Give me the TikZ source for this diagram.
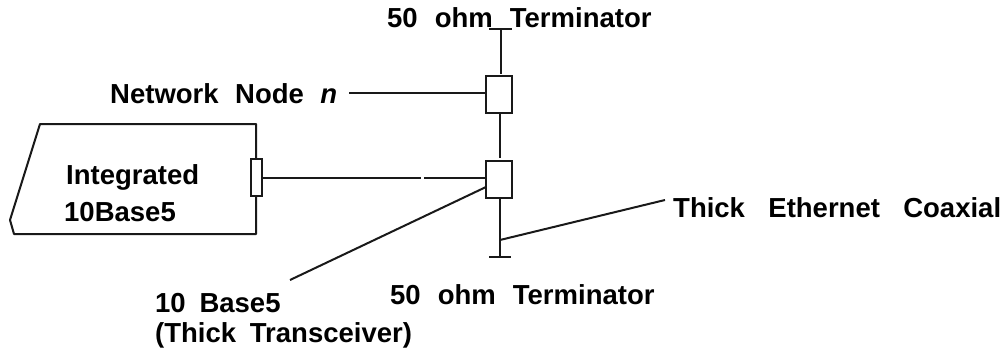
\documentclass[tikz,border=0pt]{standalone}
\usepackage{fontspec}
\setmainfont{Liberation Sans}
\newcommand{\gp}[1][0.5em]{\hspace{#1}}
\tikzset{
  lbl/.style={font=\fontsize{27.5}{27.5}\selectfont\bfseries, inner sep=0pt, anchor=west, text=black},
  wire/.style={draw=black!90, line width=2pt},
  port/.style={draw=black!90, fill=white, line width=2pt, inner sep=0pt, minimum width=26pt, minimum height=37pt},
  slim/.style={draw=black!90, fill=white, line width=1.8pt, inner sep=0pt, minimum width=11pt, minimum height=37pt},
}
\begin{document}
\begin{tikzpicture}[x=1pt,y=-1pt]
\useasboundingbox (0,0) rectangle (1004,353);
% anchors
\coordinate (topbarL) at (489,29);
\coordinate (topbarR) at (512,29);
\coordinate (topmid) at (501,29);
\coordinate (botbarL) at (489,257);
\coordinate (botbarR) at (511,257);
\coordinate (botmid) at (500,257);
\coordinate (tap) at (500,240);
\coordinate (coaxend) at (665,200);
\coordinate (netend) at (349,93);
\coordinate (diagend) at (290,280);
\coordinate (gapL) at (421,178);
\coordinate (gapR) at (424,178);
% boxes
\node[port] (b1) at (499,94.5) {};
\node[port] (b2) at (499,179.5) {};
\node[slim] (nic) at (256.5,177.5) {};
% device outline
\coordinate (d1) at (40,124);
\coordinate (d2) at (256,124);
\coordinate (d3) at (256,234);
\coordinate (d4) at (14,234);
\coordinate (d5) at (10,220);
\draw[wire, line join=round] (nic.north -| d2) -- (d2) -- (d1) -- (d5) -- (d4) -- (d3) -- (nic.south -| d3);
% connectors
\draw[wire] (topbarL) -- (topbarR);
\draw[wire] (topmid) -- (501,74);
\draw[wire] (netend) -- (netend -| b1.west);
\draw[wire] (500,113) -- (500,158);
\draw[wire] (500,198) -- (botmid);
\draw[wire] (botbarL) -- (botbarR);
\draw[wire] (nic.east |- gapL) -- (gapL);
\draw[wire] (gapR) -- (gapR -| b2.west);
\draw[wire] (486,187) -- (diagend);
\draw[wire] (tap) -- (coaxend);
% labels
\node[lbl] (t1) at (387,18) {50\gp[0.62em]ohm\gp[0.62em]Terminator};
\node[lbl] (t2) at (390,295) {50\gp[0.62em]ohm\gp[0.62em]Terminator};
\node[lbl] (t3) at (110,94) {Network\gp[0.6em]Node\gp[0.6em]\textit{n}};
\node[lbl] (t4) at (673,208) {Thick\gp[0.85em]Ethernet\gp[0.85em]Coaxial};
\node[lbl] (t5) at (66,177) {Integrated};
\node[lbl] (t6) at (64,212) {10Base5};
\node[lbl] (t7) at (155,303) {10\gp Base5};
\node[lbl] (t8) at (155,335) {(Thick\gp Transceiver)};
\end{tikzpicture}
\end{document}
